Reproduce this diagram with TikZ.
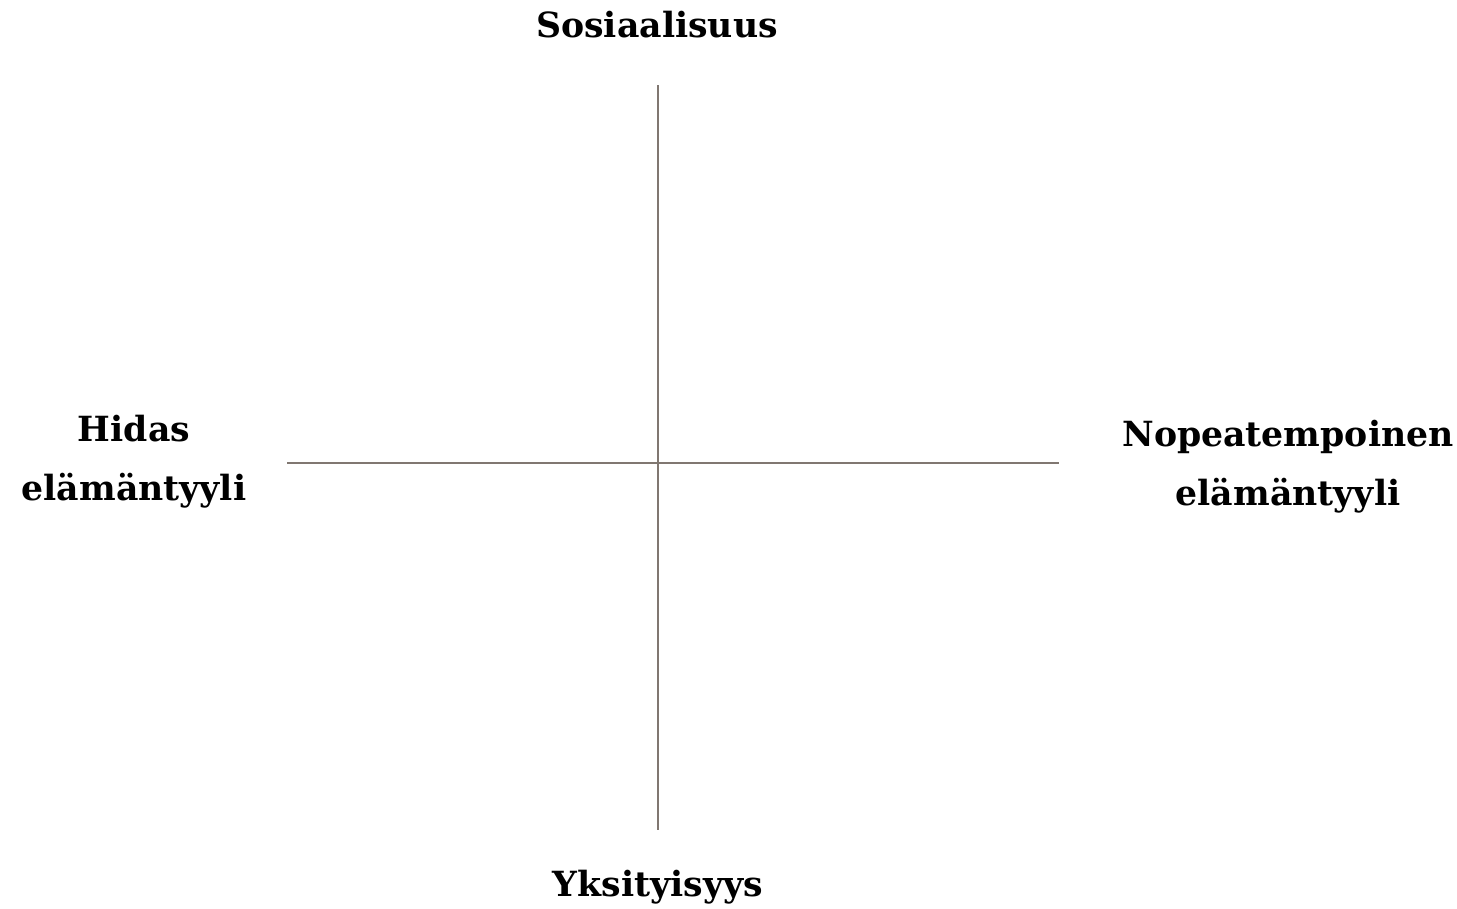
\documentclass[tikz,border=0pt]{standalone}
\usepackage{fontspec}
\setmainfont{DejaVu Serif}
\definecolor{axisgray}{RGB}{128,119,113}
\tikzset{
  axisline/.style={draw=axisgray, line width=1.5pt},
  axislabel/.style={font=\bfseries\fontsize{26}{44}\selectfont, align=center, inner sep=0.75pt}
}
\begin{document}
\begin{tikzpicture}[x=0.75pt,y=0.75pt,yscale=-1,xscale=1]
\useasboundingbox (0,0) rectangle (1457,908);

% Axis ends
\coordinate (top) at (658,85);
\coordinate (bottom) at (658,830);
\coordinate (left) at (287,463);
\coordinate (right) at (1059,463);

%Straight Lines
\draw [axisline] (top) -- (bottom) ;
%Straight Lines
\draw [axisline] (left) -- (right) ;

% Text Node
\node (social) [axislabel] at (657,25) {Sosiaalisuus};
% Text Node
\node (private) [axislabel] at (658,887) {Yksityisyys};
% Text Node
\node (slow) [axislabel] at (134,462) {Hidas\\elämäntyyli};
% Text Node
\node (fast) [axislabel] at (1288,467) {Nopeatempoinen\\elämäntyyli};

\end{tikzpicture}
\end{document}
